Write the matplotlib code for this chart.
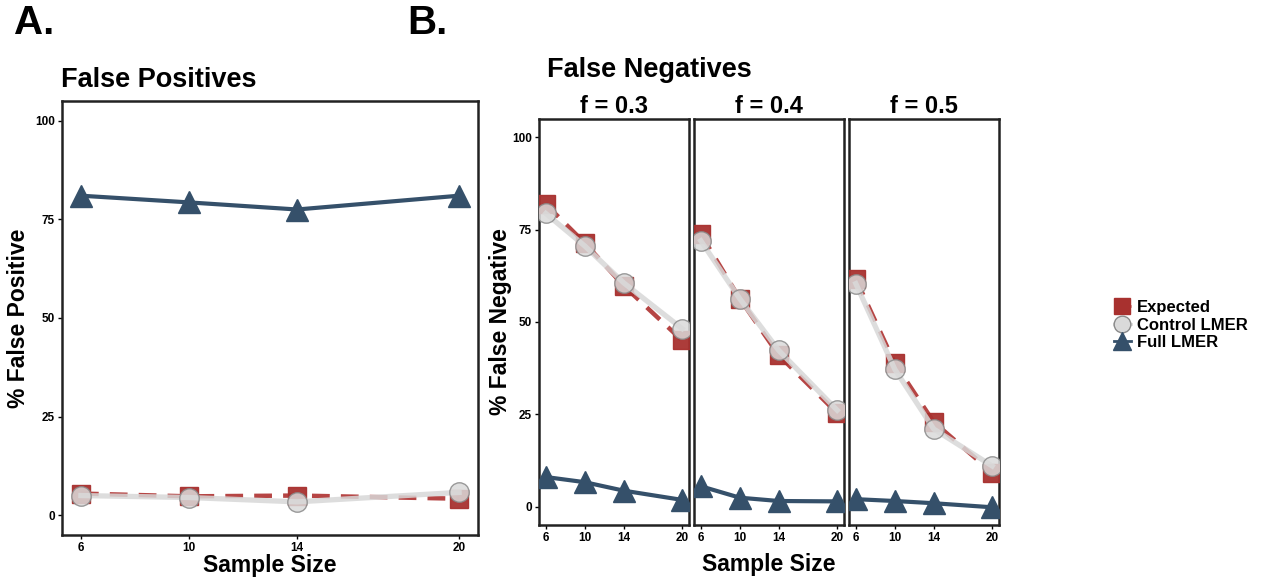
import matplotlib
matplotlib.use('Agg')
import matplotlib.pyplot as plt
from matplotlib.lines import Line2D

plt.rcParams['font.family'] = ['Liberation Sans', 'DejaVu Sans']
plt.rcParams['font.weight'] = 'bold'

# Data
sample_size = [6, 10, 14, 20]
series_names = ['Expected', 'Control LMER', 'Full LMER']

# False positives (panel A)
fp_expected = [5.5, 4.8, 5.0, 4.2]
fp_control = [5.0, 4.5, 3.4, 5.8]
fp_full = [81.0, 79.3, 77.5, 81.0]

# False negatives (panel B), one list per f value
f_values = ['0.3', '0.4', '0.5']
fn_expected = [[81.9, 71.4, 59.8, 45.0],
               [73.8, 56.3, 41.0, 25.3],
               [61.7, 38.8, 22.9, 9.2]]
fn_control = [[79.4, 70.6, 60.6, 48.2],
              [72.0, 56.3, 42.3, 26.1],
              [60.4, 37.2, 21.0, 11.0]]
fn_full = [[8.0, 6.6, 4.3, 1.8],
           [5.5, 2.4, 1.5, 1.4],
           [2.0, 1.5, 0.9, -0.2]]

red = '#A8312F'
red_line = '#B64544'
grey_fill = '#DADADA'
grey_edge = '#8A8A8A'
grey_line = '#D8D8D8'
navy = '#35506A'


def draw(ax, expected, control, full):
    ax.plot(sample_size, expected, color=red_line, lw=3.2, ls=(0, (4, 2.5)), zorder=2)
    ax.plot(sample_size, expected, ls='none', marker='s', ms=13, color=red,
            mec=red, alpha=0.95, zorder=3)
    ax.plot(sample_size, control, color=grey_line, lw=3.8, alpha=0.85, zorder=4)
    ax.plot(sample_size, control, ls='none', marker='o', ms=14, mfc=grey_fill,
            mec=grey_edge, mew=1.0, alpha=0.85, zorder=5)
    ax.plot(sample_size, full, color=navy, lw=3.0, zorder=6)
    ax.plot(sample_size, full, ls='none', marker='^', ms=16, color=navy, zorder=7)
    ax.set_xlim(5.3, 20.7)
    ax.set_ylim(-5, 105)
    ax.set_xticks(sample_size)
    ax.set_yticks([0, 25, 50, 75, 100])
    ax.tick_params(labelsize=8.5, length=3, width=1, pad=2)
    for lab in ax.get_xticklabels() + ax.get_yticklabels():
        lab.set_fontweight('bold')
    for s in ax.spines.values():
        s.set_linewidth(1.8)
        s.set_color('#222222')


fig = plt.figure(figsize=(12.67, 5.77), dpi=100)
W, H = 1267, 577

# Panel A
axA = fig.add_axes([62 / W, 1 - 535 / H, 416 / W, 434 / H])
draw(axA, fp_expected, fp_control, fp_full)
axA.set_xlabel('Sample Size', fontsize=16.5, fontweight='bold', labelpad=0)
axA.set_ylabel('% False Positive', fontsize=16.5, fontweight='bold')
axA.yaxis.set_label_coords(-0.077, 0.5)

# Panel B facets
lefts = [539, 694, 849]
axesB = []
for i, left in enumerate(lefts):
    ax = fig.add_axes([left / W, 1 - 525 / H, 150 / W, 406 / H])
    draw(ax, fn_expected[i], fn_control[i], fn_full[i])
    ax.set_title('f = ' + f_values[i], fontsize=17, fontweight='bold', pad=4)
    if i > 0:
        ax.set_yticklabels([])
        ax.tick_params(axis='y', length=0)
    axesB.append(ax)
axesB[0].set_ylabel('% False Negative', fontsize=16.5, fontweight='bold')
axesB[0].yaxis.set_label_coords(-0.18, 0.5)
fig.text((539 + 998) / 2 / W, 1 - 564 / H, 'Sample Size', fontsize=16.5,
         fontweight='bold', ha='center', va='center')

# Panel labels and titles
fig.text(14 / W, 1 - 23 / H, 'A.', fontsize=29, fontweight='bold', va='center')
fig.text(407 / W, 1 - 23 / H, 'B.', fontsize=29, fontweight='bold', va='center')
fig.text(61 / W, 1 - 80 / H, 'False Positives', fontsize=19.5, fontweight='bold', va='center')
fig.text(547 / W, 1 - 70 / H, 'False Negatives', fontsize=19.5, fontweight='bold', va='center')

# Legend
handles = [
    Line2D([], [], color=red_line, lw=2, ls='--', marker='s', ms=11, mfc=red, mec=red),
    Line2D([], [], color=grey_line, lw=2, marker='o', ms=12, mfc=grey_fill, mec=grey_edge),
    Line2D([], [], color=navy, lw=2, marker='^', ms=13, mfc=navy, mec=navy),
]
fig.legend(handles, series_names, loc='center left',
           bbox_to_anchor=(1099 / W, 1 - 325 / H), frameon=False,
           handlelength=1.0, handletextpad=0.4, labelspacing=0.15,
           prop={'weight': 'bold', 'size': 12})

fig.savefig('out.png', dpi=100)
